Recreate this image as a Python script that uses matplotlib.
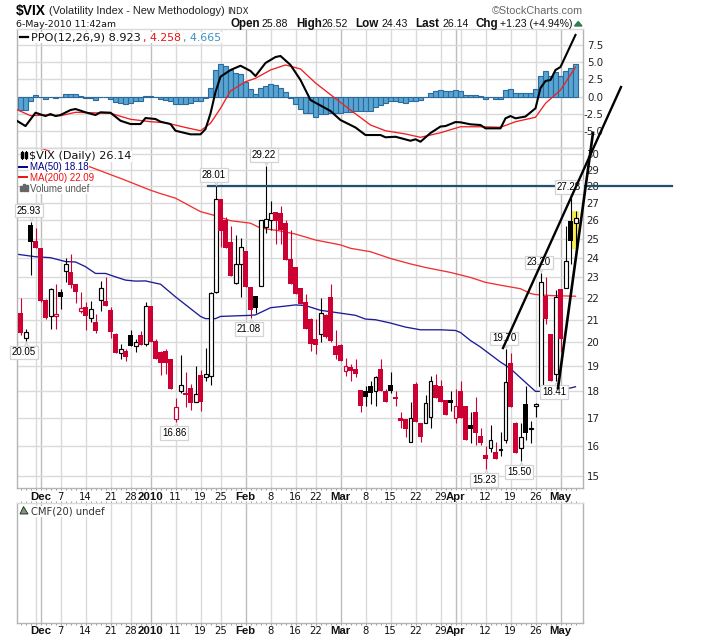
# plot.py
# $VIX daily candles with PPO and empty CMF panel, StockCharts style

import numpy as np
import matplotlib
matplotlib.use('Agg')
import matplotlib.pyplot as plt
from matplotlib.lines import Line2D
from matplotlib.patches import Polygon, Rectangle
from matplotlib.transforms import offset_copy

W, H = 716, 639

opens = [21.3, 20.2, 25.75, 24.9, 24.5, 21.9, 21.15, 21.15, 22.3, 23.3,
         23.25, 22.7, 21.4, 21.6, 21.1, 20.9, 21.9, 21.85, 21.45, 20.35,
         19.55, 19.65, 20.3, 19.85, 20.3, 19.95, 21.65, 20.05, 19.6, 19.65,
         19.3, 16.95, 18.0, 17.95, 18.15, 17.6, 18.65, 18.55, 18.6, 22.3,
         27.25, 26.0, 24.85, 22.75, 23.7, 24.35, 22.55, 22.1, 22.6, 25.65,
         26.05, 26.5, 26.4, 25.85, 23.95, 23.5, 22.5, 21.8, 21.05, 20.15,
         20.35, 21.2, 22.05, 19.85, 19.9, 18.8, 18.95, 18.9, 18.05, 18.0,
         18.2, 18.0, 18.9, 18.0, 18.25, 17.8, 17.0, 16.95, 16.15, 18.3,
         16.8, 16.8, 17.05, 18.25, 18.2, 17.65, 17.65, 17.0, 18.0, 17.45,
         16.75, 17.2, 16.35, 15.7, 15.95, 15.8, 15.88, 16.2, 19.15, 16.8,
         15.95, 17.5, 16.6, 17.45, 18.2, 22.1, 20.35, 18.7, 22.45, 22.5,
         25.95, 25.88]
highs = [22.0, 20.6, 25.93, 25.6, 24.5, 21.95, 22.5, 22.7, 22.45, 24.0,
         24.2, 22.7, 22.3, 21.8, 21.85, 21.25, 22.85, 23.0, 21.6, 20.4,
         19.95, 19.7, 20.55, 20.15, 20.5, 21.8, 21.65, 20.15, 19.65, 19.7,
         19.3, 17.75, 19.45, 18.75, 18.3, 19.0, 18.85, 19.75, 22.3, 28.01,
         27.25, 26.2, 25.7, 25.2, 25.05, 24.35, 22.55, 22.1, 26.05, 29.22,
         27.1, 26.5, 26.8, 26.05, 25.45, 23.5, 22.5, 22.2, 21.1, 21.05,
         22.0, 21.25, 22.7, 20.55, 19.95, 19.35, 19.1, 19.3, 18.05, 18.2,
         18.4, 18.6, 19.3, 18.1, 18.75, 18.0, 17.2, 16.95, 17.6, 18.35,
         16.8, 17.85, 18.6, 18.7, 18.45, 17.65, 18.0, 18.1, 18.4, 17.45,
         17.2, 17.8, 16.65, 16.0, 16.75, 16.15, 16.5, 19.7, 19.55, 16.85,
         16.8, 18.2, 16.9, 17.55, 23.2, 23.0, 20.35, 22.4, 22.45, 25.7,
         27.28, 26.52]
lows = [20.3, 20.05, 23.1, 24.5, 21.8, 21.05, 20.6, 20.6, 21.5, 22.8,
        22.5, 21.75, 21.3, 20.55, 20.9, 20.4, 21.4, 21.65, 20.2, 19.55,
        19.3, 19.2, 19.85, 19.6, 19.9, 19.85, 20.0, 19.3, 18.65, 18.7,
        18.1, 16.86, 17.95, 17.4, 17.3, 17.6, 17.25, 18.4, 18.25, 22.25,
        24.55, 24.5, 23.05, 22.7, 22.05, 22.55, 21.08, 21.3, 22.6, 25.3,
        25.5, 24.7, 24.7, 23.9, 22.7, 22.2, 21.7, 20.6, 19.65, 19.5,
        20.0, 20.2, 20.0, 19.3, 19.2, 18.6, 18.4, 18.55, 17.2, 17.45,
        17.5, 17.45, 18.0, 17.6, 17.95, 17.45, 16.65, 16.3, 16.15, 16.85,
        16.15, 16.8, 16.65, 17.75, 17.6, 17.1, 17.25, 16.8, 17.0, 16.2,
        16.1, 16.05, 16.05, 15.23, 15.8, 15.55, 15.65, 16.1, 17.4, 15.75,
        15.5, 16.2, 16.1, 17.05, 17.95, 20.8, 18.42, 18.41, 19.6, 22.5,
        23.7, 24.43]
closes = [20.4, 20.45, 24.8, 24.5, 21.85, 21.1, 22.45, 21.25, 22.05, 23.7,
          22.65, 22.3, 21.55, 21.15, 21.5, 20.5, 22.5, 21.65, 20.45, 19.55,
          19.7, 19.4, 19.85, 20.0, 19.9, 21.65, 20.0, 19.3, 19.15, 19.12,
          18.1, 17.4, 18.25, 17.85, 17.55, 17.9, 17.6, 18.7, 22.25, 27.25,
          25.4, 24.5, 23.05, 23.7, 24.55, 22.55, 21.45, 21.55, 26.05, 26.1,
          26.45, 25.95, 25.5, 23.9, 22.7, 22.2, 21.7, 20.6, 19.95, 19.9,
          21.3, 20.25, 20.05, 19.45, 19.2, 19.0, 18.8, 18.7, 17.45, 17.8,
          17.95, 18.55, 18.0, 17.6, 18.0, 17.7, 16.9, 16.6, 17.0, 16.85,
          16.3, 17.55, 18.4, 17.75, 17.6, 17.1, 17.55, 17.45, 17.0, 16.2,
          16.6, 16.45, 16.1, 15.55, 16.2, 15.55, 15.9, 18.35, 17.4, 15.75,
          16.3, 16.45, 16.65, 17.5, 22.8, 21.05, 18.4, 22.05, 20.15, 23.85,
          24.9, 26.14]

ma50_bar = [-1, 3, 6, 9, 11, 13, 15, 17, 19, 21, 23, 25, 27, 28, 31, 36, 37, 39, 40,
            46, 47, 50, 52, 55, 57, 60, 64, 67, 69, 71, 74, 77, 80, 84, 87, 88, 90,
            92, 96, 97, 98, 101, 103, 105, 107, 109, 110, 111]
ma50 = [24.19, 24.05, 24.0, 23.8, 23.78, 23.54, 23.2, 23.2, 23.03, 22.87, 22.82, 22.83,
        22.72, 22.67, 22.06, 21.15, 21.05, 21.05, 21.15, 21.2, 21.22, 21.55, 21.6,
        21.68, 21.65, 21.43, 21.3, 21.2, 21.03, 21.0, 20.85, 20.67, 20.55, 20.55,
        20.52, 20.43, 20.08, 19.8, 19.17, 19.04, 18.9, 18.35, 18.0, 18.0, 18.02,
        18.1, 18.13, 18.18]
ma200_bar = [3, 7, 14, 21, 26, 28, 31, 36, 39, 42, 46, 48, 52, 55, 57, 59, 64, 66, 70,
             74, 78, 81, 86, 90, 93, 96, 100, 102, 103, 106, 111]
ma200 = [30.5, 30.05, 29.17, 28.35, 27.75, 27.55, 27.28, 26.5, 26.27, 25.99, 25.85,
         25.58, 25.42, 25.25, 25.09, 24.93, 24.67, 24.49, 24.31, 23.96, 23.68, 23.5,
         23.25, 23.0, 22.76, 22.62, 22.45, 22.22, 22.17, 22.12, 22.09]

ppo_bar = [-1, 1, 3, 5, 6, 7, 8, 10, 11, 13, 15, 16, 18, 20, 22, 24, 25, 27, 28, 30, 31,
           34, 36, 37, 38, 39, 40, 42, 44, 46, 47, 49, 51, 52, 54, 56, 58, 60, 62, 64,
           67, 69, 72, 73, 75, 78, 79, 80, 82, 84, 85, 87, 88, 90, 92, 93, 96, 97, 98,
           99, 101, 103, 104, 105, 106, 107, 108, 111]
ppo = [-3.4, -4.28, -2.35, -2.83, -2.54, -2.83, -2.68, -1.96, -1.81, -2.29, -2.68,
       -2.29, -2.35, -3.51, -3.99, -3.99, -3.12, -3.26, -3.65, -3.99, -4.96, -5.48,
       -5.48, -4.71, -2.46, 0.65, 2.87, 3.84, 4.46, 3.7, 2.97, 4.86, 5.72, 5.87, 4.57,
       2.39, -0.51, -1.3, -2.1, -3.41, -4.49, -5.58, -5.58, -5.91, -5.83, -6.41, -6.2,
       -6.55, -5.29, -4.35, -4.28, -3.7, -3.74, -4.03, -4.13, -4.61, -4.61, -3.16,
       -2.83, -3.16, -2.9, -1.71, 1.23, 2.25, 2.39, 3.84, 4.28, 8.923]
signal_bar = [-1, 2, 5, 8, 11, 14, 18, 22, 26, 29, 33, 36, 38, 40, 42, 45, 47, 50, 53,
              56, 59, 63, 66, 70, 73, 77, 80, 84, 88, 92, 96, 99, 103, 105, 108, 111]
signal = [-1.81, -2.78, -2.68, -2.78, -2.29, -2.35, -2.43, -3.3, -3.65, -3.8, -4.49,
          -4.96, -3.88, -1.71, 0.8, 2.14, 2.64, 3.84, 4.57, 3.99, 1.96, -0.29, -1.96,
          -4.13, -4.96, -5.43, -5.91, -5.25, -4.38, -4.38, -4.46, -3.65, -3.01, -0.99,
          0.94, 4.258]
hist = [-1.93, -1.93, -0.72, 0.24, 0.0, -0.34, -0.1, -0.24, -0.1, 0.39,
        0.39, 0.39, 0.1, -0.2, -0.2, -0.48, 0.0, 0.0, -0.34, -0.82,
        -0.97, -1.06, -0.92, -0.72, -0.58, 0.14, 0.14, -0.1, -0.34, -0.48,
        -0.68, -1.06, -1.06, -1.06, -0.97, -0.72, -0.72, -0.2, 1.26, 3.9,
        4.64, 4.44, 3.77, 3.38, 3.19, 2.17, 1.11, 0.39, 1.26, 1.55,
        1.84, 1.69, 1.26, 0.63, -0.2, -1.06,
        -1.74, -2.37, -2.46, -2.95, -2.56, -2.56, -2.37, -2.37, -2.37, -2.2,
        -2.2, -2.1, -2.1, -2.1, -2.1, -1.5, -1.16, -1.0, -0.68, -0.68,
        -0.77, -0.87, -0.68, -0.63, -0.53, -0.14, 0.58, 0.77, 0.92, 0.77,
        0.87, 0.92, 0.77, 0.29, 0.19, 0.19, 0.05, -0.29, -0.14, -0.29,
        -0.34, 0.92, 1.06, 0.58, 0.58, 0.58, 0.58, 1.06, 3.04, 3.67,
        2.95, 3.57, 2.95, 3.67, 4.15, 4.665]

tick_bars = [4, 8, 13, 18, 22, 26, 31, 36, 40, 45, 50, 55, 59, 64, 69, 74, 79, 84, 87,
             93, 98, 103, 108]
tick_labels = ['Dec', '7', '14', '21', '28', '2010', '11', '19', '25', 'Feb', '8', '16',
               '22', 'Mar', '8', '15', '22', '29', 'Apr', '12', '19', '26', 'May']
month_labels = ['Dec', '2010', 'Feb', 'Mar', 'Apr', 'May']
month_bars = [4, 26, 45, 64, 87, 108]
extra_grid_bars = [3, 88]

price_ticks = list(range(15, 31))
ppo_ticks = [-5.0, -2.5, 0.0, 2.5, 5.0, 7.5]

high_labels = [2, 39, 49, 97, 104, 110]
low_labels = [1, 31, 46, 93, 100, 107]

# hand drawn trend lines (bar number, price)
resist_x, resist_y = [37.4, 130.3], [28.01, 28.01]
trend_a_x, trend_a_y = [96.5, 120.1], [19.76, 34.65]
trend_b_x, trend_b_y = [107.5, 114.5], [18.13, 31.4]

RED = '#cc0033'
GRID = '#dadada'
GRID_DARK = '#bdbdbd'
BORDER = '#b4b4b4'


def panel(top, bottom, left=16.5, right=582.5):
    ax = fig.add_axes([left / W, 1 - bottom / H, (right - left) / W, (bottom - top) / H])
    ax.set_xlim(-0.8, 112.4)
    for s in ax.spines.values():
        s.set_color(BORDER)
        s.set_linewidth(1.0)
    ax.spines['top'].set_color(GRID)
    ax.set_axisbelow(True)
    for b in tick_bars + extra_grid_bars:
        ax.axvline(b, color=GRID_DARK if b in month_bars else GRID, lw=1.0, zorder=0.5)
    ax.set_xticks(range(0, 112), minor=True)
    ax.tick_params(axis='x', which='minor', length=1.2, width=0.7, color='#999999')
    return ax


def ptext(x, y, s, **kw):
    kw.setdefault('fontsize', 8)
    kw.setdefault('va', 'baseline')
    kw.setdefault('family', 'DejaVu Sans')
    return fig.text(x / W, 1 - y / H, s, **kw)


def xlabels(y):
    for b, lab in zip(tick_bars, tick_labels):
        bold = lab in month_labels
        ptext(20.5 + 5 * b, y, lab, ha='center', fontsize=8.2 if bold else 7.2,
              family='Liberation Sans' if bold else 'DejaVu Sans',
              fontweight='bold' if bold else 'normal', color='#111111')


def px_to_fig(x, y):
    return (x / W, 1 - y / H)


fig = plt.figure(figsize=(W / 100, H / 100), dpi=100, facecolor='white')

bars = np.arange(len(closes))
o, h, l, c = map(np.array, (opens, highs, lows, closes))
prev = np.r_[o[0], c[:-1]]

# PPO panel
ax1 = panel(29, 148)
ax1.set_ylim(-7.46, 9.78)
ax1.set_xticks([])
ax1.set_yticks(ppo_ticks)
ax1.set_yticklabels(['%.1f' % t for t in ppo_ticks], ha='right')
ax1.yaxis.tick_right()
ax1.tick_params(axis='y', length=0, labelsize=7.4, pad=14.8, labelcolor='#222222')
ax1.grid(axis='y', color=GRID, lw=1.0)
ax1.bar(bars, hist, width=1.0, color='#58a5d1', edgecolor='#2c6a9e', linewidth=0.8, zorder=2)
ax1.plot(signal_bar, signal, color='#f02020', lw=0.95, zorder=3)
ax1.plot(ppo_bar, ppo, color='black', lw=1.5, zorder=4)

# price panel
ax2 = panel(148, 488)
ax2.set_zorder(2)
ax2.set_yscale('log')
ax2.set_ylim(14.62, 30.39)
ax2.set_yticks(price_ticks)
ax2.set_yticklabels([str(t) for t in price_ticks])
ax2.minorticks_off()
ax2.set_xticks(range(0, 112), minor=True)
ax2.set_xticks([])
ax2.yaxis.tick_right()
ax2.tick_params(axis='y', length=0, labelsize=7.4, pad=3.0, labelcolor='#222222')
ax2.tick_params(axis='x', which='minor', length=1.2, width=0.7, color='#999999')
ax2.grid(axis='y', which='major', color=GRID, lw=1.0)

# last bar highlight
ax2.bar(bars[-1], h[-1] - l[-1], bottom=l[-1], width=1.45, color='#f7ee55', zorder=1.5)

ax2.plot(ma200_bar, ma200, color='#f23030', lw=0.95, zorder=2)
ax2.plot(ma50_bar, ma50, color='#1c1c96', lw=0.95, zorder=2)

for i in bars:
    col = RED if c[i] < prev[i] else 'black'
    ax2.plot([i, i], [l[i], h[i]], color=col, lw=0.8, zorder=3, solid_capstyle='butt')
    lo, hi = min(o[i], c[i]), max(o[i], c[i])
    if c[i] >= o[i]:
        ax2.bar(i, hi - lo, bottom=lo, width=0.8, facecolor='white', edgecolor=col,
                linewidth=0.85, zorder=4)
    else:
        ax2.bar(i, hi - lo, bottom=lo, width=1.0, color=col, linewidth=0, zorder=4)

ax2.plot(resist_x, resist_y, color='#234f70', lw=1.6, zorder=6, clip_on=False)

# high / low call outs
for i in high_labels + low_labels:
    up = i in high_labels
    val = h[i] if up else l[i]
    sign = 1 if up else -1
    off = offset_copy(ax2.transData, fig=fig, y=sign * 3.0, units='points')
    ax2.plot([i], [val], marker='v' if up else '^', ms=5.0, mfc='white', mec='#d0d0d0',
             mew=0.8, transform=off, zorder=7, clip_on=False)
    ax2.annotate('%.2f' % val, xy=(i, val), xytext=(-1, sign * 8), textcoords='offset points',
                 ha='center', va='center', fontsize=7.0, color='black', zorder=8,
                 family='Liberation Sans',
                 bbox=dict(boxstyle='square,pad=0.18', fc='white', ec='#d4d4d4', lw=0.9))

ax2.plot(trend_a_x, trend_a_y, color='black', lw=1.7, zorder=9, clip_on=False)
ax2.plot(trend_b_x, trend_b_y, color='black', lw=1.9, zorder=9, clip_on=False)

# CMF panel
ax3 = panel(503, 622.5)
ax3.set_ylim(0, 1)
ax3.set_yticks([])
ax3.set_xticks([])
ax3.set_xticks(range(0, 112), minor=True)
ax3.tick_params(axis='x', which='minor', top=True, length=1.2, width=0.7, color='#999999')

xlabels(500.5)
xlabels(634.5)

# header
ptext(16, 15, '$VIX', family='Liberation Sans', fontweight='bold', fontsize=10)
ptext(49, 14.5, '(Volatility Index - New Methodology)', family='Liberation Sans', fontsize=7.9,
      color='#222222')
ptext(227, 14.5, 'INDX', fontsize=6.2, color='#222222')
ptext(16, 27, '6-May-2010 11:42am', fontsize=6.75, color='#111111')
ptext(492, 14, '\u00a9StockCharts.com', family='Liberation Sans', fontsize=7.8, color='#666666')

for x, s, bold in [(230, 'Open', True), (262, '25.88', False), (296, 'High', True),
                   (322, '26.52', False), (355, 'Low', True), (382, '24.43', False),
                   (415, 'Last', True), (442, '26.14', False), (475, 'Chg', True),
                   (500, '+1.23 (+4.94%)', False)]:
    ptext(x, 27, s, family='Liberation Sans', fontsize=8.4 if bold else 7.6,
          fontweight='bold' if bold else 'normal', color='#111111')
fig.add_artist(Polygon([px_to_fig(574.5, 26), px_to_fig(582, 26), px_to_fig(578.2, 21.5)],
                       closed=True, color='#2e7d4f', transform=fig.transFigure))

# panel legends
bbox = dict(fc='white', ec='none', pad=0.6)
fig.add_artist(Line2D([20 / W, 28 / W], [1 - 36.5 / H] * 2, color='black', lw=1.6))
ptext(31, 40.5, 'PPO(12,26,9) 8.923', fontsize=8.1, color='#111111', bbox=bbox)
ptext(143, 40.5, ', 4.258', fontsize=7.9, color='#ee1111', bbox=bbox)
ptext(183, 40.5, ', 4.665', fontsize=7.9, color='#3c8fc4', bbox=bbox)

ptext(29, 159.5, '$VIX (Daily) 26.14', fontsize=8.1, color='#111111', bbox=bbox)
ptext(29.5, 170, 'MA(50) 18.18', family='Liberation Sans', fontsize=7, color='#000088', bbox=bbox)
ptext(29.5, 181, 'MA(200) 22.09', family='Liberation Sans', fontsize=7, color='#ee1111', bbox=bbox)
ptext(29.5, 191.5, 'Volume undef', family='Liberation Sans', fontsize=7, color='#555555', bbox=bbox)
ptext(31, 514.5, 'CMF(20) undef', fontsize=7.2, color='#333333', bbox=bbox)

# little legend icons, above the price axes
ICON_Z = 5
fig.add_artist(Line2D([19 / W, 27 / W], [1 - 166.5 / H] * 2, color='#000088', lw=1.4, zorder=ICON_Z))
fig.add_artist(Line2D([19 / W, 27 / W], [1 - 177 / H] * 2, color='#ee1111', lw=1.4, zorder=ICON_Z))
for x0, y0, y1 in [(20.5, 152, 158), (24.5, 152, 158)]:
    fig.add_artist(Rectangle(px_to_fig(x0, y1), 2.5 / W, (y1 - y0) / H, color='black',
                             transform=fig.transFigure, zorder=ICON_Z))
    fig.add_artist(Line2D([(x0 + 1.2) / W] * 2, [1 - 159.5 / H, 1 - 150.5 / H], color='black',
                          lw=0.7, zorder=ICON_Z))
for x0, top in [(20, 186), (23, 184), (26, 185)]:
    fig.add_artist(Rectangle(px_to_fig(x0, 191), 2.2 / W, (191 - top) / H, color='#666666',
                             transform=fig.transFigure, zorder=ICON_Z))
fig.add_artist(Polygon([px_to_fig(20, 514), px_to_fig(23.5, 506.5), px_to_fig(25, 509),
                        px_to_fig(28, 514)], closed=True, fc='#7a9a78', ec='#222222', lw=0.6,
                       transform=fig.transFigure, zorder=ICON_Z))

plt.savefig('out.png', dpi=100)
plt.close()
